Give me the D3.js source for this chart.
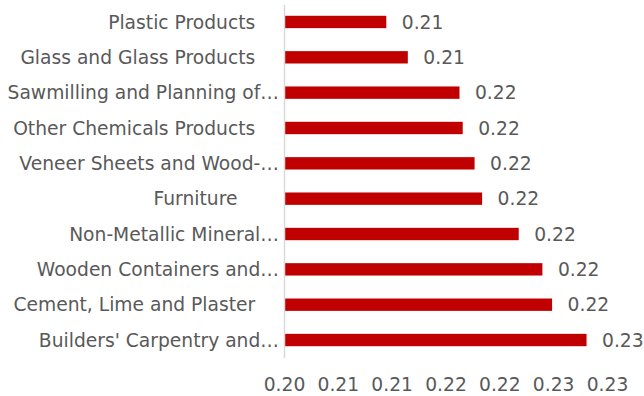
<!DOCTYPE html>
<html>
<head>
<meta charset="utf-8">
<script src="https://cdn.jsdelivr.net/npm/d3@7"></script>
<style>
  html, body { margin: 0; padding: 0; background: #ffffff; }
  svg text { font-family: "DejaVu Sans", sans-serif; font-size: 18.7px; fill: #595959; white-space: pre; }
</style>
</head>
<body>
<svg id="chart" width="644" height="396"></svg>
<script>
// Industry categories, top to bottom as drawn
const categories = [
  "Plastic Products\u00a0\u00a0\u00a0\u00a0",
  "Glass and Glass Products\u00a0\u00a0\u00a0\u00a0",
  "Sawmilling and Planning of\u2026",
  "Other Chemicals Products\u00a0\u00a0\u00a0\u00a0",
  "Veneer Sheets and Wood-\u2026",
  "Furniture\u00a0\u00a0\u00a0\u00a0\u00a0\u00a0\u00a0",
  "Non-Metallic Mineral\u2026",
  "Wooden Containers and\u2026",
  "Cement, Lime and Plaster\u00a0\u00a0\u00a0\u00a0",
  "Builders' Carpentry and\u2026"
];

// Index value per industry
const values = [0.2095, 0.2115, 0.2163, 0.2166, 0.2177, 0.2184, 0.2218, 0.2240, 0.2249, 0.2281];

// Horizontal axis ticks and their printed labels
const tickValues = [0.200, 0.205, 0.210, 0.215, 0.220, 0.225, 0.230];
const tickLabels = ["0.20", "0.21", "0.21", "0.22", "0.22", "0.23", "0.23"];

const svg = d3.select("#chart");

const x = d3.scaleLinear().domain([0.20, 0.23]).range([284, 607]);
const y = d3.scaleBand()
  .domain(categories)
  .range([4.3, 357.7])
  .paddingInner(0.65)
  .paddingOuter(0.325);

const fmt = d3.format(".2f");

// Bars
svg.append("g")
  .selectAll("rect")
  .data(values)
  .join("rect")
  .attr("x", x(0.20))
  .attr("y", (d, i) => y(categories[i]))
  .attr("width", d => x(d) - x(0.20))
  .attr("height", y.bandwidth())
  .attr("fill", "#c00000");

// Value labels
svg.append("g")
  .selectAll("text")
  .data(values)
  .join("text")
  .attr("x", d => x(d) + 15.5)
  .attr("y", (d, i) => y(categories[i]) + y.bandwidth() / 2)
  .attr("dy", "0.35em")
  .text(d => fmt(d));

// Category axis
const yAxis = svg.append("g")
  .attr("transform", `translate(${x(0.20)},0)`)
  .call(d3.axisLeft(y).tickSize(0).tickPadding(5));
yAxis.select(".domain").attr("stroke", "#d9d9d9").attr("stroke-width", 1.5);
yAxis.selectAll("text")
  .attr("font-family", null)
  .attr("font-size", null)
  .attr("fill", null)
  .attr("dy", "0.35em");

// Value axis (labels only)
const xAxis = svg.append("g")
  .attr("transform", `translate(0,${357.7})`)
  .call(d3.axisBottom(x)
    .tickValues(tickValues)
    .tickFormat((d, i) => tickLabels[i])
    .tickSize(0)
    .tickPadding(20));
xAxis.select(".domain").remove();
xAxis.selectAll("text")
  .attr("font-family", null)
  .attr("font-size", null)
  .attr("fill", null);
</script>
</body>
</html>
